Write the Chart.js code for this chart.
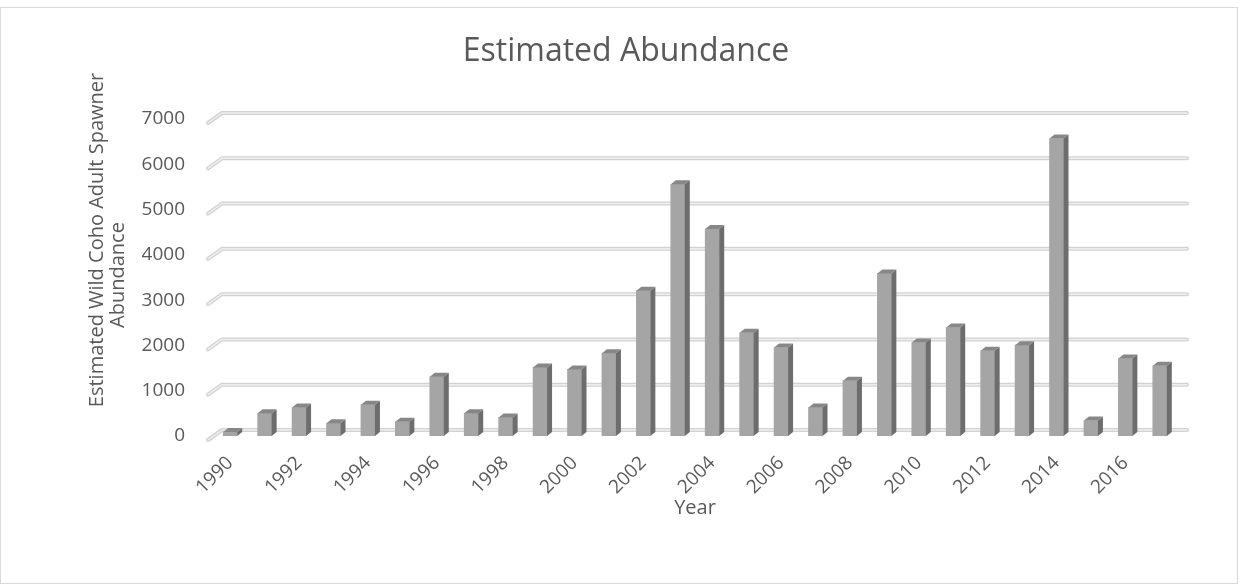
<!DOCTYPE html>
<html lang="en">
<head>
    <meta charset="UTF-8">
    <title>Estimated Abundance</title>
    <script src="https://cdn.jsdelivr.net/npm/chart.js"></script>
    <style>
        body { margin: 0; background: #ffffff; }
        #chart { display: block; }
    </style>
</head>
<body>
    <canvas id="chart" width="1244" height="584"></canvas>
    <script>
        // Return years and estimated spawner counts
        var years = ['1990', '1991', '1992', '1993', '1994', '1995', '1996', '1997', '1998', '1999',
                     '2000', '2001', '2002', '2003', '2004', '2005', '2006', '2007', '2008', '2009',
                     '2010', '2011', '2012', '2013', '2014', '2015', '2016', '2017'];
        var abundance = [90, 500, 630, 280, 690, 315, 1310, 500, 410, 1515,
                         1470, 1825, 3210, 5560, 4570, 2280, 1955, 630, 1220, 3590,
                         2065, 2395, 1880, 2005, 6570, 340, 1710, 1550];
        var yTickValues = [0, 1000, 2000, 3000, 4000, 5000, 6000, 7000];
        var yTitleLines = ['Estimated Wild Coho Adult Spawner', 'Abundance'];

        var textColor = '#595959';
        var fontFamily = '"Open Sans", "Noto Sans", sans-serif';

        // white page, thin frame, chart title and y axis title
        var frame = {
            id: 'frame',
            beforeDraw: function(chart) {
                var ctx = chart.ctx;
                ctx.save();
                ctx.fillStyle = '#ffffff';
                ctx.fillRect(0, 0, chart.width, chart.height);
                ctx.strokeStyle = '#d9d9d9';
                ctx.lineWidth = 1;
                ctx.strokeRect(0.5, 7.5, 1237, 576);
                ctx.restore();
            },
            afterDraw: function(chart) {
                var ctx = chart.ctx;
                ctx.save();
                ctx.fillStyle = textColor;
                ctx.textAlign = 'center';
                ctx.textBaseline = 'middle';
                ctx.font = '32px ' + fontFamily;
                ctx.fillText('Estimated Abundance', 626, 52);

                ctx.font = '20px ' + fontFamily;
                ctx.translate(97, 240);
                ctx.rotate(-Math.PI / 2);
                ctx.fillText(yTitleLines[0], 0, 0);
                ctx.fillText(yTitleLines[1], -35, 21);
                ctx.restore();
            }
        };

        // gridlines on the back wall, with a slanted piece on the side wall
        var backWall = {
            id: 'backWall',
            beforeDatasetsDraw: function(chart) {
                var ctx = chart.ctx;
                var area = chart.chartArea;
                var yScale = chart.scales.y;
                ctx.save();
                ctx.lineJoin = 'round';
                ctx.lineCap = 'round';
                yTickValues.forEach(function(v) {
                    var py = yScale.getPixelForValue(v);
                    var pts = [[area.left - 5, py + 4], [area.left + 9, py - 6], [area.right + 10, py - 6]];
                    [[4, '#d2d2d2'], [1.5, '#efefef']].forEach(function(s) {
                        ctx.lineWidth = s[0];
                        ctx.strokeStyle = s[1];
                        ctx.beginPath();
                        ctx.moveTo(pts[0][0], pts[0][1]);
                        ctx.lineTo(pts[1][0], pts[1][1]);
                        ctx.lineTo(pts[2][0], pts[2][1]);
                        ctx.stroke();
                    });
                });
                ctx.restore();
            }
        };

        // side and top faces for each column
        var columns3d = {
            id: 'columns3d',
            afterDatasetsDraw: function(chart) {
                var ctx = chart.ctx;
                var dx = 5, dy = 4;
                ctx.save();
                chart.getDatasetMeta(0).data.forEach(function(bar) {
                    var p = bar.getProps(['x', 'y', 'base', 'width'], true);
                    var l = p.x - p.width / 2, r = p.x + p.width / 2;
                    ctx.fillStyle = '#6d6d6d';
                    ctx.beginPath();
                    ctx.moveTo(r, p.y);
                    ctx.lineTo(r + dx, p.y - dy);
                    ctx.lineTo(r + dx, p.base - dy);
                    ctx.lineTo(r, p.base);
                    ctx.closePath();
                    ctx.fill();
                    ctx.fillStyle = '#878787';
                    ctx.beginPath();
                    ctx.moveTo(l, p.y);
                    ctx.lineTo(l + dx, p.y - dy);
                    ctx.lineTo(r + dx, p.y - dy);
                    ctx.lineTo(r, p.y);
                    ctx.closePath();
                    ctx.fill();
                });
                ctx.restore();
            }
        };

        var ctx = document.getElementById('chart').getContext('2d');
        var chart = new Chart(ctx, {
            type: 'bar',
            data: {
                labels: years,
                datasets: [{
                    label: 'Estimated Abundance',
                    data: abundance,
                    backgroundColor: '#a5a5a5',
                    borderWidth: 0,
                    barThickness: 14
                }]
            },
            options: {
                responsive: false,
                animation: false,
                layout: { padding: { left: 0, right: 67, top: 119, bottom: 0 } },
                plugins: {
                    legend: { display: false },
                    tooltip: { enabled: false },
                    title: { display: false }
                },
                scales: {
                    x: {
                        grid: { display: false, drawTicks: false },
                        border: { display: false },
                        ticks: {
                            autoSkip: false,
                            minRotation: 45,
                            maxRotation: 45,
                            padding: 16,
                            color: textColor,
                            font: { family: fontFamily, size: 19 },
                            callback: function(value, index) {
                                return index % 2 === 0 ? years[index] : '';
                            }
                        },
                        title: {
                            display: true,
                            text: 'Year',
                            color: textColor,
                            font: { family: fontFamily, size: 20 },
                            padding: { top: 0, bottom: 64 }
                        },
                        afterFit: function(scale) { scale.height = 148; }
                    },
                    y: {
                        min: 0,
                        max: 7000,
                        afterBuildTicks: function(scale) {
                            scale.ticks = yTickValues.map(function(v) { return { value: v }; });
                        },
                        grid: { display: false, drawTicks: false },
                        border: { display: false },
                        ticks: {
                            padding: 28,
                            color: textColor,
                            font: { family: fontFamily, size: 19 },
                            callback: function(value) { return String(value); }
                        },
                        title: { display: false },
                        afterFit: function(scale) { scale.width = 213; }
                    }
                }
            },
            plugins: [frame, backWall, columns3d]
        });
    </script>
</body>
</html>
